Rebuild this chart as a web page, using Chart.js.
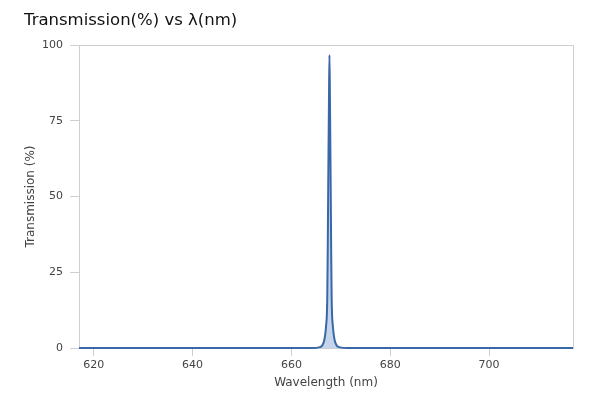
<!DOCTYPE html>
<html>
<head>
<meta charset="utf-8">
<script src="https://cdn.jsdelivr.net/npm/chart.js@4/dist/chart.umd.min.js"></script>
<style>
  html, body { margin: 0; padding: 0; background: #fff; }
  #wrap { width: 600px; height: 400px; }
</style>
</head>
<body>
<div id="wrap"><canvas id="chart" width="600" height="400"></canvas></div>
<script>
// wavelength (nm) and transmission (%)
const wavelengths  = [617, 664, 665.8, 666.3, 666.65, 667.0, 667.25, 667.35, 667.43, 667.6, 667.7, 667.8, 667.97, 668.05, 668.15, 668.4, 668.75, 669.1, 669.6, 671.5, 717];
const transmission = [0,   0,   0.3,   1,     2.6,    7,     16,     32,     49,     82,    96.7,  82,    49,     32,     16,     7,     2.6,    1,     0.3,   0,     0];

const xTicks = [620, 640, 660, 680, 700];
const yTicks = [0, 25, 50, 75, 100];

const points = wavelengths.map((w, i) => ({ x: w, y: transmission[i] }));

// =====================
// PLOT FRAME (top + right edge)
// =====================
const frame = {
    id: 'frame',
    beforeDatasetsDraw(chart) {
        const { ctx, chartArea: a } = chart;
        ctx.save();
        ctx.strokeStyle = '#cfcfcf';
        ctx.lineWidth = 1;
        ctx.beginPath();
        ctx.moveTo(a.left, a.top + 0.5);
        ctx.lineTo(a.right + 0.5, a.top + 0.5);
        ctx.lineTo(a.right + 0.5, a.bottom);
        ctx.stroke();
        ctx.restore();
    }
};

new Chart(document.getElementById('chart').getContext('2d'), {
    type: 'line',
    data: {
        datasets: [{
            data: points,
            borderColor: '#3a67a8',
            backgroundColor: '#c4d4ea',
            borderWidth: 2,
            pointRadius: 0,
            fill: 'origin',
            cubicInterpolationMode: 'monotone',
            clip: 3,
        }]
    },
    options: {
        responsive: false,
        animation: false,
        layout: { padding: { left: 24, right: 27, top: 0, bottom: 10 } },
        plugins: {
            legend: { display: false },
            tooltip: { enabled: false },
            title: {
                display: true,
                text: 'Transmission(%) vs λ(nm)',
                align: 'start',
                color: '#111',
                font: { family: 'DejaVu Sans', size: 16.5, weight: 'normal', lineHeight: 1.2 },
                padding: { top: 11, bottom: 14.2 },
            }
        },
        scales: {
            x: {
                type: 'linear',
                min: 617,
                max: 717,
                afterBuildTicks: s => { s.ticks = xTicks.map(v => ({ value: v })); },
                afterFit: s => { s.height = 400 - 348 - 10; },
                ticks: { color: '#444', padding: 3, font: { family: 'DejaVu Sans', size: 11 } },
                grid: { drawOnChartArea: false, tickLength: 8, color: '#cfcfcf' },
                border: { color: '#cfcfcf' },
                title: {
                    display: true,
                    text: 'Wavelength (nm)',
                    color: '#444',
                    font: { family: 'DejaVu Sans', size: 12 },
                    padding: { top: 4, bottom: 0 },
                }
            },
            y: {
                min: 0,
                max: 100,
                afterBuildTicks: s => { s.ticks = yTicks.map(v => ({ value: v })); },
                afterFit: s => { s.width = 79 - 24; },
                ticks: { color: '#444', padding: 7, font: { family: 'DejaVu Sans', size: 11 } },
                grid: { drawOnChartArea: false, tickLength: 9, color: '#cfcfcf' },
                border: { color: '#cfcfcf' },
                title: {
                    display: true,
                    text: 'Transmission (%)',
                    color: '#444',
                    font: { family: 'DejaVu Sans', size: 12 },
                    padding: { top: 0, bottom: 0 },
                }
            }
        }
    },
    plugins: [frame]
});
</script>
</body>
</html>
